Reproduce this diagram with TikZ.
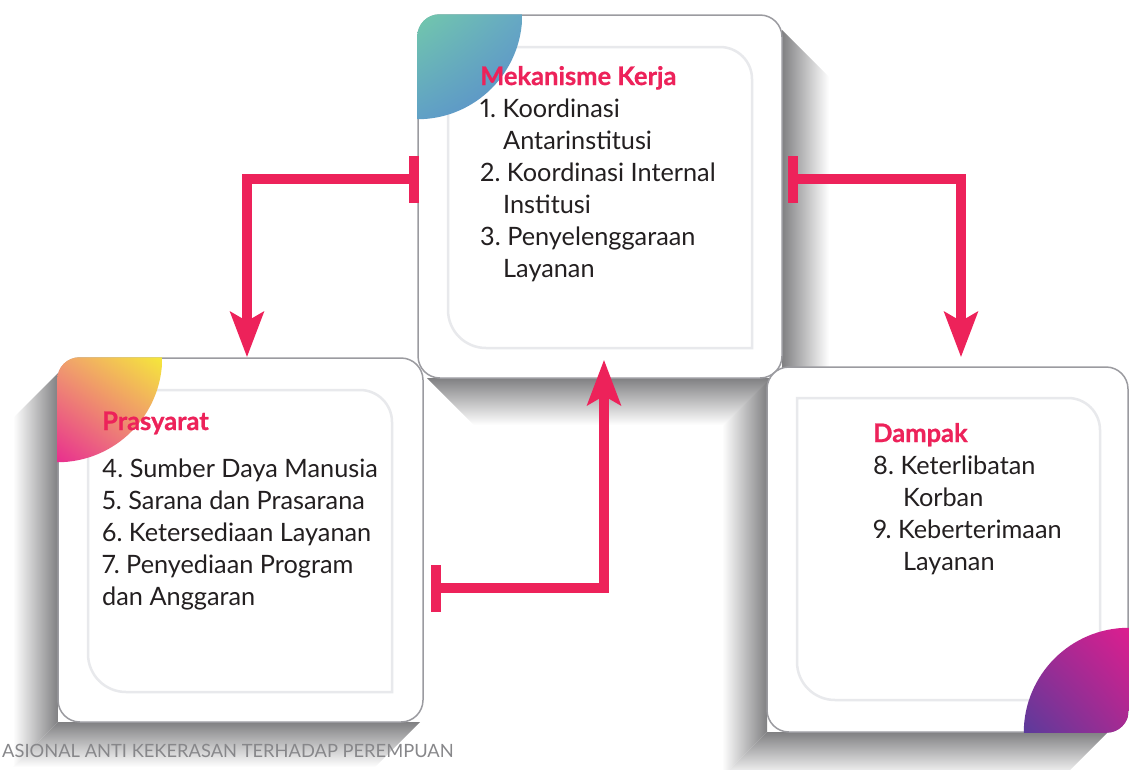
\documentclass[tikz,border=0pt]{standalone}
\usepackage{fontspec}
\setmainfont{Lato}[Numbers=Proportional,BoldFeatures={FakeBold=0.8}]
\usetikzlibrary{arrows.meta,calc,shadings}

\definecolor{accent}{RGB}{237,34,90}
\definecolor{ink}{RGB}{35,31,32}
\definecolor{frame}{RGB}{155,155,160}
\definecolor{innerline}{RGB}{232,233,236}
\definecolor{shadowgray}{RGB}{128,128,130}
\definecolor{footgray}{RGB}{135,135,138}
% leaf gradients
\definecolor{tealA}{RGB}{114,200,171}
\definecolor{tealB}{RGB}{102,168,196}
\definecolor{tealC}{RGB}{96,160,198}
\definecolor{tealD}{RGB}{88,138,203}
\definecolor{sunA}{RGB}{240,160,110}
\definecolor{sunB}{RGB}{245,232,58}
\definecolor{sunC}{RGB}{232,46,142}
\definecolor{sunD}{RGB}{238,130,128}
\definecolor{plumA}{RGB}{160,42,147}
\definecolor{plumB}{RGB}{220,30,143}
\definecolor{plumC}{RGB}{91,59,155}
\definecolor{plumD}{RGB}{164,43,146}

% gap between an item number and its text
\newcommand{\numgap}{\hspace{6.5pt}}

\begin{document}
\begin{tikzpicture}[x=1pt,y=-1pt,
  card/.style={draw=frame,line width=1.5pt,fill=white,rounded corners=22pt,inner sep=0pt},
  inner frame/.style={draw=innerline,line width=2.5pt},
  heading/.style={anchor=base west,inner sep=0pt,text=accent,font=\fontsize{25.5}{32}\selectfont\bfseries},
  body/.style={anchor=north west,inner sep=0pt,text=ink,align=left,font=\fontsize{25.3}{32}\selectfont},
  link/.style={draw=accent,line width=10pt,
    arrows={Rectangle[length=10pt,width=47pt]-Stealth[length=45pt,width=33pt,inset=9pt]}}]

\useasboundingbox (0,0) rectangle (1130,769);

% ---------- Mekanisme Kerja card ----------
\shade[left color=shadowgray,right color=white] (782,30) -- (829,77) -- (829,425) -- (782,378) -- cycle;
\shade[top color=shadowgray,bottom color=white] (427,378) -- (782,378) -- (829,425) -- (474,425) -- cycle;
\node[card,minimum width=364pt,minimum height=363pt] (mek) at (600,196.5) {};
\draw[inner frame] (448,47) -- (720,47) arc(-90:0:32) -- (752,348) -- (486,348) arc(90:180:38) -- cycle;
\begin{scope}
  \clip[rounded corners=22pt] (mek.north west) rectangle (mek.south east);
  \clip (mek.north west) circle[radius=105];
  \shade[upper left=tealA,upper right=tealB,lower left=tealC,lower right=tealD]
    (mek.north west) rectangle ++(105,105);
\end{scope}

% ---------- Prasyarat card ----------
\shade[left color=white,right color=shadowgray] (58,373) -- (13,418) -- (13,767) -- (58,722) -- cycle;
\shade[top color=shadowgray,bottom color=white] (58,722) -- (420,722) -- (375,767) -- (13,767) -- cycle;
\node[card,minimum width=365pt,minimum height=364pt] (pra) at (240.5,540) {};
\draw[inner frame] (88,390) -- (360,390) arc(-90:0:32) -- (392,692) -- (126,692) arc(90:180:38) -- cycle;
\begin{scope}
  \clip[rounded corners=22pt] (pra.north west) rectangle (pra.south east);
  \clip (pra.north west) circle[radius=105];
  \shade[upper left=sunA,upper right=sunB,lower left=sunC,lower right=sunD]
    (pra.north west) rectangle ++(105,105);
\end{scope}

% ---------- Dampak card ----------
\shade[left color=white,right color=shadowgray] (767,382) -- (722,427) -- (722,777) -- (767,732) -- cycle;
\shade[top color=shadowgray,bottom color=white] (767,732) -- (1108,732) -- (1063,777) -- (722,777) -- cycle;
\node[card,minimum width=361pt,minimum height=365pt] (dam) at (947.5,549.5) {};
\draw[inner frame] (797,398) -- (1068,398) arc(-90:0:32) -- (1100,700) -- (835,700) arc(90:180:38) -- cycle;
\begin{scope}
  \clip[rounded corners=22pt] (dam.north west) rectangle (dam.south east);
  \clip (dam.south east) circle[radius=105];
  \shade[upper left=plumA,upper right=plumB,lower left=plumC,lower right=plumD]
    (dam.south east) rectangle ++(-105,-105);
\end{scope}

% ---------- texts ----------
\node[heading] (mekhead) at (480,85) {Mekanisme Kerja};
\node[body] (mekbody) at (480,97) {\rule{0pt}{20pt}1.\numgap Koordinasi\\
  \hspace*{23pt}Antarinstitusi\\
  2.\numgap Koordinasi Internal\\
  \hspace*{23pt}Institusi\\
  3.\numgap Penyelenggaraan\\
  \hspace*{23pt}Layanan};

\node[heading] (prahead) at (102,430) {Prasyarat};
\node[body] (prabody) at (102,457) {\rule{0pt}{20pt}4.\numgap Sumber Daya Manusia\\
  5.\numgap Sarana dan Prasarana\\
  6.\numgap Ketersediaan Layanan\\
  7.\numgap Penyediaan Program\\
  dan Anggaran};

\node[heading] (damhead) at (873,442) {Dampak};
\node[body] (dambody) at (873,454) {\rule{0pt}{20pt}8.\numgap Keterlibatan\\
  \hspace*{30pt}Korban\\
  9.\numgap Keberterimaan\\
  \hspace*{30pt}Layanan};

% ---------- connectors ----------
\draw[link] ([xshift=2pt,yshift=17.5pt]mek.west) -| ([xshift=6.5pt]pra.north);
\draw[link] ([xshift=5pt,yshift=17.5pt]mek.east) -| ([xshift=13.5pt,yshift=9pt]dam.north);
\draw[link] ([xshift=7pt,yshift=-48pt]pra.east) -| ([xshift=4pt,yshift=19pt]mek.south);

% ---------- running footer ----------
\node[anchor=base west,inner sep=0pt,text=footgray,font=\fontsize{18.3}{21}\selectfont] (footer) at (2,757)
  {ASIONAL ANTI KEKERASAN TERHADAP PEREMPUAN};

\end{tikzpicture}
\end{document}
